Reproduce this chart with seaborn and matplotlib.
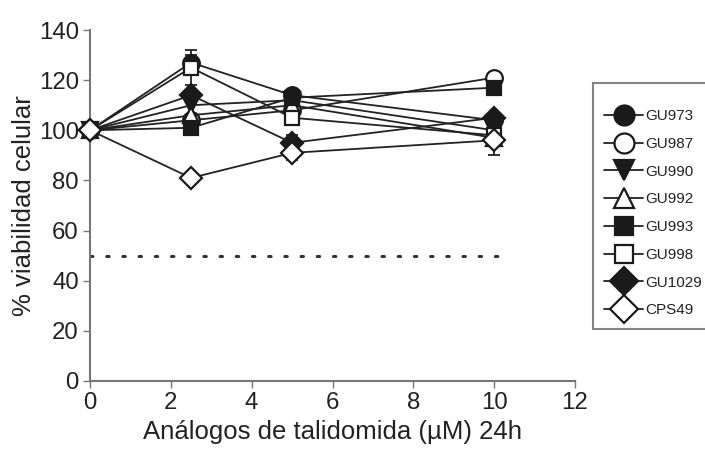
import matplotlib
matplotlib.use("Agg")
import matplotlib.pyplot as plt
import seaborn as sns
import pandas as pd

# Concentrations (µM) and viability (% of control) for each analogue
conc = [0, 2.5, 5, 10]
gu973 = [100, 127, 114, 104]
gu987 = [100, 104, 108, 121]
gu990 = [100, 110, 112, 100]
gu992 = [100, 106, 110, 97]
gu993 = [100, 101, 113, 117]
gu998 = [100, 125, 105, 98]
gu1029 = [100, 114, 95, 105]
cps49 = [100, 81, 91, 96]

# Standard errors
err_gu973 = [0, 3, 2, 2]
err_gu998 = [0, 7, 2, 2]
err_gu1029 = [0, 2, 3, 2]
err_cps49 = [0, 2, 3, 6]
err_zero = [0, 0, 0, 0]

names = ["GU973", "GU987", "GU990", "GU992", "GU993", "GU998", "GU1029", "CPS49"]
values = [gu973, gu987, gu990, gu992, gu993, gu998, gu1029, cps49]
errors = [err_gu973, err_zero, err_zero, err_zero, err_zero, err_gu998, err_gu1029, err_cps49]
markers = ["o", "o", "v", "^", "s", "s", "D", "D"]
filled = [True, False, True, False, True, False, True, False]
msizes = [12, 12, 12, 12, 10.5, 10.5, 11.5, 11.5]

xticks = [0, 2, 4, 6, 8, 10, 12]
yticks = [0, 20, 40, 60, 80, 100, 120, 140]
cutoff = 50

sns.set_style("ticks")
plt.rcParams["font.family"] = ["Liberation Sans", "DejaVu Sans"]

fig = plt.figure(figsize=(7.05, 4.59), dpi=100)
ax = fig.add_axes([0.1277, 0.170, 0.8156 - 0.1277, 0.9346 - 0.170])

df = pd.DataFrame({
    "conc": conc * len(names),
    "viab": [v for vals in values for v in vals],
    "err": [e for errs in errors for e in errs],
    "name": [n for n in names for _ in conc],
})

# 50 % viability reference
ax.plot([0, 10.3], [cutoff, cutoff], linestyle=(0, (0.8, 4.5)), color="#333333",
        lw=2.2, dash_capstyle="round", zorder=1)

for name, mk, fl, ms in zip(names, markers, filled, msizes):
    sub = df[df["name"] == name]
    sub_err = sub[sub["err"] > 0]
    if len(sub_err):
        ax.errorbar(sub_err["conc"], sub_err["viab"], yerr=sub_err["err"], fmt="none",
                    ecolor="#222222", elinewidth=1.3, capsize=4, capthick=1.3, zorder=2)
    sns.lineplot(data=sub, x="conc", y="viab", ax=ax, color="#222222", lw=1.3,
                 marker=mk, markersize=ms, markeredgewidth=1.6,
                 markeredgecolor="#1a1a1a",
                 markerfacecolor="#1a1a1a" if fl else "white",
                 label=name, clip_on=False, zorder=3, errorbar=None)

ax.set_xlim(0, 12)
ax.set_ylim(0, 140)
ax.set_xticks(xticks)
ax.set_yticks(yticks)
ax.set_xlabel("Análogos de talidomida (µM) 24h", fontsize=18.5, color="#222222", labelpad=4)
ax.set_ylabel("% viabilidad celular", fontsize=18.5, color="#222222", labelpad=2)
ax.tick_params(axis="both", labelsize=17.3, colors="#222222", direction="out",
               length=5, width=1, color="#777777", pad=3)
for side in ["top", "right"]:
    ax.spines[side].set_visible(False)
for side in ["left", "bottom"]:
    ax.spines[side].set_color("#777777")
    ax.spines[side].set_linewidth(1.5)

handles, labels = ax.get_legend_handles_labels()
ax.legend_.remove()
leg = fig.legend(handles, labels, loc="upper left",
                 bbox_to_anchor=(593 / 705, 1 - 83 / 459), frameon=True,
                 fancybox=False, edgecolor="#666666", fontsize=11,
                 title=" ", title_fontsize=1.5,
                 handlelength=2.5, handletextpad=0.15, labelspacing=0.9,
                 borderpad=0.75, borderaxespad=0, markerscale=1.2)
leg.get_frame().set_linewidth(1.5)
for t in leg.get_texts():
    t.set_color("#222222")

fig.savefig("out.png", dpi=100)
